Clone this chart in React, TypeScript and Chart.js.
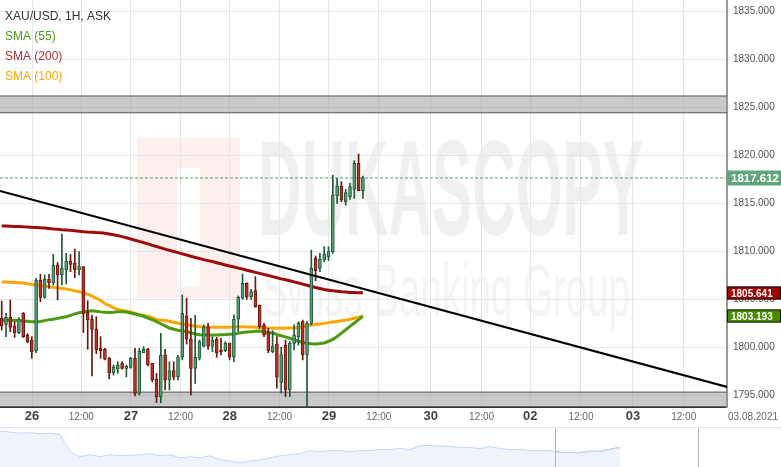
import React, { useEffect, useRef } from "react";
import { Chart, registerables } from "chart.js";

Chart.register(...registerables);

// ---- Data (XAU/USD, 1H candles) ----
const candleOpen = [
  1802.99, 1802.36, 1803.09, 1802.19, 1801.5, 1803.51, 1801.25, 1800.73, 1799.62, 1806.98,
  1805.17, 1807.05, 1806.7, 1808.54, 1807.5, 1808.02, 1808.96, 1808.72, 1808.02, 1808.37,
  1803.58, 1802.88, 1801.84, 1799.86, 1799.76, 1798.82, 1797.33, 1797.68, 1798.3, 1797.78,
  1797.88, 1798.82, 1795.17, 1799.41, 1799.76, 1798.3, 1796.63, 1794.83, 1799.17, 1796.56,
  1797.54, 1796.9, 1798.93, 1803.24, 1800.81, 1797.78, 1798.83, 1800.1, 1802.1, 1800.1,
  1800.81, 1799.7, 1799.62, 1800.4, 1799.0, 1802.89, 1805.08, 1806.64, 1805.25, 1805.88,
  1804.38, 1802.3, 1801.5, 1799.52, 1800.3, 1796.3, 1800.2, 1795.52, 1800.38, 1801.08,
  1802.64, 1799.17, 1802.47, 1809.24, 1808.19, 1809.06, 1809.41, 1809.93, 1815.73, 1816.77,
  1815.14, 1815.66, 1816.42, 1819.13, 1816.28,
];
const candleHigh = [
  1804.79, 1803.51, 1804.9, 1802.64, 1803.06, 1803.58, 1801.4, 1801.08, 1807.15, 1807.57,
  1807.5, 1807.57, 1809.65, 1808.8, 1811.77, 1809.76, 1809.65, 1810.2, 1809.93, 1808.4,
  1804.83, 1803.33, 1803.16, 1801.08, 1799.86, 1798.93, 1798.13, 1798.47, 1798.47, 1798.13,
  1798.93, 1799.86, 1799.86, 1800.03, 1799.86, 1798.3, 1797.26, 1801.42, 1799.76, 1798.47,
  1798.47, 1799.17, 1805.42, 1805.08, 1803.0, 1803.3, 1800.73, 1802.3, 1802.47, 1801.08,
  1801.0, 1800.9, 1800.56, 1800.4, 1803.34, 1805.32, 1807.6, 1806.7, 1806.0, 1807.33,
  1804.38, 1802.47, 1801.95, 1801.7, 1801.08, 1800.0, 1800.73, 1800.56, 1802.3, 1802.64,
  1802.81, 1802.64, 1810.1, 1809.48, 1809.76, 1810.45, 1810.45, 1817.9, 1817.57, 1817.22,
  1816.42, 1817.05, 1819.41, 1820.1, 1817.81,
];
const candleLow = [
  1801.77, 1801.08, 1801.6, 1801.0, 1801.4, 1801.0, 1800.45, 1798.82, 1799.4, 1804.72,
  1805.07, 1806.1, 1806.46, 1804.9, 1806.46, 1806.56, 1807.85, 1807.22, 1807.5, 1801.5,
  1799.76, 1797.0, 1799.3, 1798.82, 1798.65, 1796.67, 1797.08, 1797.26, 1797.68, 1796.9,
  1797.78, 1794.9, 1795.0, 1799.4, 1798.02, 1796.4, 1794.2, 1794.2, 1795.52, 1795.52,
  1796.56, 1796.56, 1798.65, 1800.3, 1795.0, 1796.2, 1798.65, 1800.0, 1799.76, 1799.52,
  1798.93, 1799.17, 1799.52, 1798.65, 1798.48, 1801.6, 1804.97, 1804.97, 1804.97, 1804.14,
  1801.95, 1801.08, 1799.4, 1799.4, 1795.7, 1795.2, 1794.83, 1794.83, 1799.69, 1800.2,
  1798.65, 1792.0, 1802.3, 1806.9, 1807.85, 1808.9, 1809.0, 1809.76, 1814.97, 1815.14,
  1814.79, 1815.38, 1815.48, 1816.28, 1815.48,
];
const candleClose = [
  1802.19, 1803.09, 1802.05, 1801.5, 1802.92, 1801.08, 1800.56, 1799.5, 1806.98, 1805.17,
  1807.05, 1806.7, 1808.54, 1807.5, 1808.2, 1808.96, 1808.61, 1808.02, 1808.37, 1803.5,
  1802.81, 1801.84, 1799.69, 1799.62, 1798.72, 1797.33, 1797.88, 1798.13, 1797.78, 1798.02,
  1798.82, 1795.17, 1799.58, 1799.76, 1798.13, 1796.56, 1794.83, 1799.17, 1796.56, 1797.54,
  1796.9, 1798.93, 1803.51, 1800.81, 1797.78, 1798.93, 1800.56, 1802.1, 1800.1, 1800.73,
  1799.41, 1799.52, 1800.4, 1799.0, 1802.89, 1805.18, 1806.64, 1805.18, 1805.77, 1804.21,
  1802.13, 1801.26, 1799.62, 1800.1, 1796.85, 1799.2, 1795.52, 1800.38, 1801.25, 1802.47,
  1799.17, 1802.47, 1808.19, 1807.95, 1809.13, 1809.65, 1809.93, 1815.83, 1816.77, 1815.31,
  1816.08, 1816.7, 1819.13, 1816.28, 1817.612,
];

const sma55 = [
  1802.82, 1802.8, 1802.8, 1802.78, 1802.75, 1802.72, 1802.68, 1802.64,
  1802.62, 1802.66, 1802.75, 1802.85, 1802.9, 1802.98, 1803.08, 1803.16,
  1803.3, 1803.45, 1803.58, 1803.65, 1803.72, 1803.78, 1803.72, 1803.66,
  1803.62, 1803.6, 1803.62, 1803.66, 1803.68, 1803.64, 1803.55, 1803.44,
  1803.34, 1803.2, 1803.02, 1802.84, 1802.64, 1802.42, 1802.2, 1801.98,
  1801.85, 1801.75, 1801.68, 1801.6, 1801.48, 1801.36, 1801.28, 1801.25,
  1801.24, 1801.25, 1801.25, 1801.28, 1801.3, 1801.33, 1801.36, 1801.42,
  1801.5, 1801.56, 1801.6, 1801.65, 1801.67, 1801.6, 1801.52, 1801.45,
  1801.3, 1801.18, 1801.05, 1800.91, 1800.75, 1800.6, 1800.48, 1800.38,
  1800.33, 1800.32, 1800.36, 1800.42, 1800.6, 1800.8, 1801.1, 1801.45,
  1801.8, 1802.15, 1802.5, 1802.85, 1803.193,
];
const sma200 = [
  1812.6, 1812.6, 1812.58, 1812.55, 1812.55, 1812.52, 1812.5, 1812.47,
  1812.45, 1812.42, 1812.4, 1812.35, 1812.3, 1812.27, 1812.22, 1812.19,
  1812.15, 1812.1, 1812.05, 1812.0, 1811.97, 1811.95, 1811.92, 1811.9,
  1811.85, 1811.78, 1811.7, 1811.6, 1811.5, 1811.38, 1811.25, 1811.12,
  1811.0, 1810.87, 1810.75, 1810.6, 1810.47, 1810.33, 1810.2, 1810.07,
  1809.95, 1809.83, 1809.7, 1809.58, 1809.45, 1809.33, 1809.22, 1809.1,
  1809.0, 1808.9, 1808.78, 1808.67, 1808.55, 1808.44, 1808.33, 1808.22,
  1808.12, 1808.0, 1807.9, 1807.78, 1807.67, 1807.55, 1807.45, 1807.33,
  1807.22, 1807.1, 1807.0, 1806.9, 1806.78, 1806.67, 1806.55, 1806.43,
  1806.3, 1806.2, 1806.1, 1806.0, 1805.92, 1805.85, 1805.8, 1805.75,
  1805.72, 1805.69, 1805.67, 1805.65, 1805.641,
];
const sma100 = [
  1806.77, 1806.76, 1806.75, 1806.73, 1806.7, 1806.66, 1806.6, 1806.5,
  1806.45, 1806.4, 1806.35, 1806.28, 1806.22, 1806.16, 1806.1, 1806.04,
  1805.95, 1805.85, 1805.75, 1805.63, 1805.5, 1805.3, 1805.08, 1804.84,
  1804.5, 1804.3, 1804.1, 1803.9, 1803.8, 1803.72, 1803.65, 1803.5,
  1803.36, 1803.28, 1803.2, 1803.05, 1802.85, 1802.8, 1802.76, 1802.68,
  1802.58, 1802.48, 1802.4, 1802.32, 1802.25, 1802.18, 1802.12, 1802.09,
  1802.07, 1802.06, 1802.06, 1802.05, 1802.06, 1802.07, 1802.08, 1802.1,
  1802.1, 1802.09, 1802.08, 1802.06, 1802.04, 1802.02, 1801.98, 1801.96,
  1801.95, 1801.95, 1801.96, 1801.98, 1802.0, 1802.04, 1802.12, 1802.2,
  1802.28, 1802.34, 1802.4, 1802.46, 1802.54, 1802.6, 1802.66, 1802.73,
  1802.8, 1802.9, 1803.0, 1803.1, 1803.23,
];

const lastPrice = 1817.612;
const trendX = [-0.4, 168.7];
const trendY = [1816.25, 1795.84];
const resistanceZone = [1824.4, 1826.15];
const supportZone = [1793.75, 1795.3];

const yTickValues = [1795, 1800, 1805, 1810, 1815, 1820, 1825, 1830, 1835];
const xTickValues = [7.05, 18.5, 30.05, 41.6, 53.05, 64.6, 76.1, 87.7, 99.8, 111.6, 122.9, 134.7, 146.8, 158.6];
const xTickLabels = ["26", "12:00", "27", "12:00", "28", "12:00", "29", "12:00", "30", "12:00", "02", "12:00", "03", "12:00"];
const axisDateLabel = "03.08.2021";

const legendLabels = ["XAU/USD, 1H, ASK", "SMA (55)", "SMA (200)", "SMA (100)"];
const legendColors = ["#333333", "#4a9a1c", "#b03030", "#ffa500"];

// navigator (longer history overview)
const navValues = [
  1834.3, 1832.3, 1830.8, 1831.5, 1830.0, 1830.8, 1829.2, 1803.1, 1795.4, 1798.5,
  1795.4, 1798.5, 1796.9, 1797.7, 1798.5, 1800.0, 1796.9, 1798.5, 1793.8, 1795.4,
  1793.8, 1796.9, 1790.8, 1789.2, 1786.2, 1789.2, 1790.8, 1793.8, 1796.9, 1798.5,
  1800.0, 1804.6, 1803.1, 1804.6, 1804.6, 1803.1, 1804.6, 1804.6, 1806.2, 1806.2,
  1807.7, 1806.2, 1812.3, 1812.3, 1811.5, 1810.8, 1809.2, 1809.2, 1807.7, 1810.8,
  1807.7, 1806.2, 1806.2, 1804.6, 1804.6, 1804.6, 1801.5, 1801.5, 1801.5, 1803.1,
  1803.1, 1806.2, 1809.2,
];
const navWindowStart = 55.5;
const navHandles = [55.5, 69.8];

// ---- styling ----
const X_MIN = -0.395;
const X_MAX = 168.67;
const Y_MIN = 1793.75;
const Y_MAX = 1836.15;
const FONT = '"Liberation Sans", Arial, sans-serif';
const NARROW = '"Liberation Sans Narrow", "Liberation Sans", Arial, sans-serif';

const UP_BODY = "#55a077";
const UP_LINE = "#1d5a37";
const DN_BODY = "#bd3328";
const DN_LINE = "#6a150d";

const watermark = {
  id: "watermark",
  beforeDraw(chart: any) {
    const { ctx, chartArea: a } = chart;
    ctx.save();
    ctx.beginPath();
    ctx.rect(a.left, a.top, a.right - a.left, a.bottom - a.top);
    ctx.clip();
    ctx.fillStyle = "#fdefee";
    ctx.fillRect(137, 138, 103, 160);
    ctx.fillStyle = "#ffffff";
    ctx.fillRect(177, 168, 23, 119);
    ctx.fillStyle = "rgba(0,0,0,0.06)";
    ctx.textBaseline = "alphabetic";
    ctx.textAlign = "left";
    ctx.font = `bold 135px ${NARROW}`;
    let w = ctx.measureText("DUKASCOPY").width;
    ctx.save();
    ctx.translate(258, 235);
    ctx.scale(385 / w, 1);
    ctx.fillText("DUKASCOPY", 0, 0);
    ctx.restore();
    ctx.fillStyle = "rgba(0,0,0,0.045)";
    ctx.font = `74px ${FONT}`;
    w = ctx.measureText("Swiss Banking Group").width;
    ctx.save();
    ctx.translate(262, 316);
    ctx.scale(368 / w, 1);
    ctx.fillText("Swiss Banking Group", 0, 0);
    ctx.restore();
    ctx.restore();
  },
};

const overlay = {
  id: "overlay",
  afterDraw(chart: any) {
    const { ctx, chartArea: a, scales } = chart;
    const ys = scales.y;
    ctx.save();
    ctx.textAlign = "left";
    ctx.textBaseline = "alphabetic";
    ctx.font = `12px ${FONT}`;
    legendLabels.forEach((t, i) => {
      ctx.fillStyle = legendColors[i];
      ctx.fillText(t, 5, 20 + i * 20);
    });

    const box = (val: number, bg: string, border: string | null, font: string, h: number) => {
      const py = Math.round(ys.getPixelForValue(val));
      const x0 = a.right;
      const wBox = chart.width - a.right;
      ctx.fillStyle = bg;
      ctx.fillRect(x0, py - h / 2, wBox, h);
      if (border) {
        ctx.strokeStyle = border;
        ctx.lineWidth = 1;
        ctx.strokeRect(x0 + 0.5, py - h / 2 + 0.5, wBox - 1, h - 1);
      }
      ctx.fillStyle = "#ffffff";
      ctx.font = font;
      ctx.textBaseline = "middle";
      ctx.textAlign = "left";
      ctx.fillText(val.toFixed(3), x0 + 4, py + 1);
    };
    box(lastPrice, "#5fa57d", null, `bold 11.5px ${FONT}`, 15);
    box(sma200[sma200.length - 1], "#a30000", "#111111", `bold 10px ${FONT}`, 13);
    box(sma55[sma55.length - 1], "#4a8c00", "#111111", `bold 10px ${FONT}`, 13);

    ctx.fillStyle = "#666666";
    ctx.font = `10px ${NARROW}`;
    ctx.textAlign = "center";
    ctx.textBaseline = "middle";
    ctx.fillText(axisDateLabel, (a.right + chart.width) / 2 - 1, a.bottom + 10);
    ctx.restore();
  },
};

const navDecor = {
  id: "navDecor",
  afterDraw(chart: any) {
    const { ctx, scales } = chart;
    ctx.save();
    ctx.strokeStyle = "#e3e3e3";
    ctx.lineWidth = 1;
    ctx.beginPath();
    ctx.moveTo(0, 0.5);
    ctx.lineTo(chart.width, 0.5);
    ctx.stroke();
    ctx.strokeStyle = "#b5b5b5";
    navHandles.forEach((v) => {
      const px = Math.round(scales.x.getPixelForValue(v)) + 0.5;
      ctx.beginPath();
      ctx.moveTo(px, 1);
      ctx.lineTo(px, chart.height);
      ctx.stroke();
    });
    ctx.restore();
  },
};

function buildMainConfig(): any {
  const isUp = candleClose.map((c, i) => c >= candleOpen[i]);
  const pts = (arr: number[]) => arr.map((y, i) => ({ x: i, y }));
  const hline = (y: number) => [
    { x: X_MIN, y },
    { x: X_MAX, y },
  ];
  return {
    type: "bar",
    data: {
      datasets: [
        {
          type: "line",
          label: "trend",
          data: trendX.map((x, i) => ({ x, y: trendY[i] })),
          borderColor: "#000000",
          borderWidth: 2,
          pointRadius: 0,
          order: 0,
          clip: 0,
        },
        {
          type: "bar",
          label: "body",
          data: candleOpen.map((o, i) => ({ x: i, y: [o, candleClose[i]] })),
          backgroundColor: isUp.map((u) => (u ? UP_BODY : DN_BODY)),
          borderColor: isUp.map((u) => (u ? UP_LINE : DN_LINE)),
          borderWidth: 1,
          borderSkipped: false,
          maxBarThickness: 3,
          barThickness: 3,
          grouped: false,
          order: 1,
          clip: 0,
        },
        {
          type: "bar",
          label: "wick",
          data: candleLow.map((l, i) => ({ x: i, y: [l, candleHigh[i]] })),
          backgroundColor: isUp.map((u) => (u ? UP_LINE : DN_LINE)),
          borderWidth: 0,
          maxBarThickness: 1,
          barThickness: 1,
          grouped: false,
          order: 2,
          clip: 0,
        },
        {
          type: "line",
          label: "SMA (55)",
          data: pts(sma55),
          borderColor: "#4c9a0e",
          borderWidth: 3,
          pointRadius: 0,
          order: 3,
          clip: 0,
        },
        {
          type: "line",
          label: "SMA (200)",
          data: pts(sma200),
          borderColor: "#9e0b0b",
          borderWidth: 3,
          pointRadius: 0,
          order: 3,
          clip: 0,
        },
        {
          type: "line",
          label: "SMA (100)",
          data: pts(sma100),
          borderColor: "#ffa500",
          borderWidth: 3,
          pointRadius: 0,
          order: 4,
          clip: 0,
        },
        {
          type: "line",
          label: "price",
          data: hline(lastPrice),
          borderColor: "#4e9e6e",
          borderWidth: 1,
          borderDash: [3, 2],
          pointRadius: 0,
          order: 6,
          clip: 0,
        },
        {
          type: "line",
          label: "resHigh",
          data: hline(resistanceZone[1]),
          borderColor: "#555555",
          borderWidth: 1,
          pointRadius: 0,
          fill: false,
          order: 10,
          clip: 0,
        },
        {
          type: "line",
          label: "resLow",
          data: hline(resistanceZone[0]),
          borderColor: "#555555",
          borderWidth: 1,
          pointRadius: 0,
          fill: "-1",
          backgroundColor: "rgba(150,150,150,0.5)",
          order: 10,
          clip: 0,
        },
        {
          type: "line",
          label: "support",
          data: hline(supportZone[1]),
          borderColor: "#555555",
          borderWidth: 1,
          pointRadius: 0,
          fill: "start",
          backgroundColor: "rgba(150,150,150,0.5)",
          order: 10,
          clip: 0,
        },
      ],
    },
    options: {
      responsive: false,
      animation: false,
      events: [],
      layout: { padding: 0 },
      plugins: { legend: { display: false }, tooltip: { enabled: false } },
      scales: {
        x: {
          type: "linear",
          min: X_MIN,
          max: X_MAX,
          offset: false,
          grid: { color: "#e6e6e6", drawTicks: false, offset: false },
          border: { color: "#333333", width: 2 },
          afterBuildTicks: (axis: any) => {
            axis.ticks = xTickValues.map((v) => ({ value: v }));
          },
          afterFit: (s: any) => {
            s.height = 20;
            s.paddingLeft = 0;
            s.paddingRight = 0;
          },
          ticks: {
            autoSkip: false,
            maxRotation: 0,
            padding: 2,
            callback: (_v: any, i: number) => xTickLabels[i] ?? "",
            color: (c: any) => (xTickLabels[c.index] === "12:00" ? "#666666" : "#444444"),
            font: (c: any) =>
              xTickLabels[c.index] === "12:00"
                ? { family: NARROW, size: 10, lineHeight: 1.56 }
                : { family: NARROW, size: 13, weight: "bold", lineHeight: 1.2 },
          },
        },
        y: {
          type: "linear",
          position: "right",
          min: Y_MIN,
          max: Y_MAX,
          grid: { color: "#e6e6e6", drawTicks: false },
          border: { color: "#999999", width: 2 },
          afterBuildTicks: (axis: any) => {
            axis.ticks = yTickValues.map((v) => ({ value: v }));
          },
          afterFit: (s: any) => {
            s.width = 54;
            s.paddingTop = 0;
            s.paddingBottom = 0;
          },
          ticks: {
            padding: 6,
            color: "#555555",
            font: { family: FONT, size: 10 },
            callback: (v: any) => Number(v).toFixed(3),
          },
        },
      },
    },
    plugins: [watermark, overlay],
  };
}

function buildNavConfig(): any {
  const winData = navValues
    .map((y, i) => ({ x: i, y }))
    .filter((p) => p.x >= Math.ceil(navWindowStart));
  winData.unshift({ x: navWindowStart, y: navValues[Math.floor(navWindowStart)] });
  return {
    type: "line",
    data: {
      datasets: [
        {
          data: navValues.map((y, i) => ({ x: i, y })),
          borderColor: "#c6d8f4",
          backgroundColor: "#eef3fc",
          borderWidth: 1,
          pointRadius: 0,
          fill: "start",
        },
        {
          data: winData,
          borderColor: "#9fbcea",
          backgroundColor: "#d9e5f8",
          borderWidth: 1.5,
          pointRadius: 0,
          fill: "start",
        },
      ],
    },
    options: {
      responsive: false,
      animation: false,
      events: [],
      layout: { padding: 0 },
      plugins: { legend: { display: false }, tooltip: { enabled: false } },
      scales: {
        x: { type: "linear", min: 0, max: 78.1, display: false },
        y: { type: "linear", min: 1780, max: 1840, display: false },
      },
    },
    plugins: [navDecor],
  };
}

export default function App() {
  const mainRef = useRef<HTMLCanvasElement>(null);
  const navRef = useRef<HTMLCanvasElement>(null);

  useEffect(() => {
    Chart.defaults.font.family = FONT;
    const main = new Chart(mainRef.current as HTMLCanvasElement, buildMainConfig());
    const nav = new Chart(navRef.current as HTMLCanvasElement, buildNavConfig());
    return () => {
      main.destroy();
      nav.destroy();
    };
  }, []);

  return (
    <div
      style={{
        position: "fixed",
        left: 0,
        top: 0,
        width: 781,
        height: 467,
        background: "#ffffff",
        overflow: "hidden",
      }}
    >
      <canvas ref={mainRef} width={781} height={427} style={{ display: "block", width: 781, height: 427 }} />
      <canvas ref={navRef} width={781} height={40} style={{ display: "block", width: 781, height: 40 }} />
    </div>
  );
}
